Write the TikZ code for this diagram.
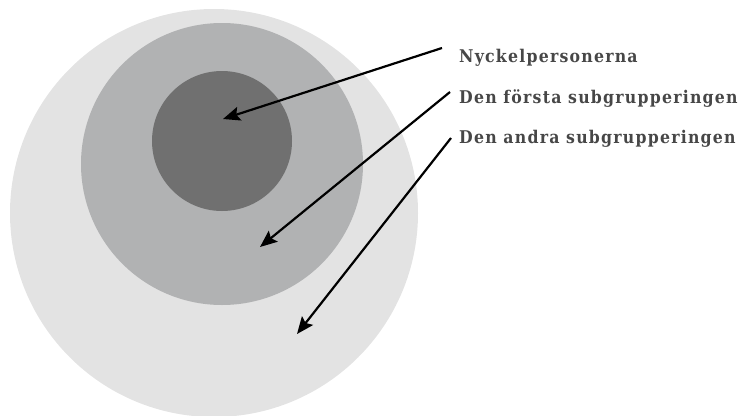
\documentclass[tikz,border=0pt]{standalone}
\usepackage{fontspec}
\setmainfont{Liberation Serif}
\newfontfamily\labfont[LetterSpace=7]{DejaVu Serif Condensed}
\usetikzlibrary{arrows.meta}
\definecolor{outerc}{HTML}{E3E3E3}
\definecolor{midc}{HTML}{B1B2B3}
\definecolor{innerc}{HTML}{707070}
\definecolor{textc}{HTML}{474747}
\tikzset{
  lab/.style={anchor=base west, inner sep=0pt, text=textc, font=\labfont\bfseries\fontsize{17.5}{20}\selectfont},
  pointer/.style={line width=2.2pt, -{Stealth[length=17pt,width=14pt,inset=3pt]}},
}
\begin{document}
\begin{tikzpicture}[x=1pt,y=-1pt]
\useasboundingbox (0,0) rectangle (741,415);
\fill[outerc] (214,213) circle (204);
\fill[midc] (222,164) circle (141);
\fill[innerc] (222,141) circle (70);
\node[lab] (l1) at (459,62) {Nyckelpersonerna};
\node[lab] (l2) at (459,103) {Den första subgrupperingen};
\node[lab] (l3) at (459,143) {Den andra subgrupperingen};
\coordinate (s1) at (442,48);
\coordinate (s2) at (450,92);
\coordinate (s3) at (451,138);
\coordinate (t1) at (223,119);
\coordinate (t2) at (260,247);
\coordinate (t3) at (297,334);
\draw[pointer] (s1) -- (t1);
\draw[pointer] (s2) -- (t2);
\draw[pointer] (s3) -- (t3);
\end{tikzpicture}
\end{document}
